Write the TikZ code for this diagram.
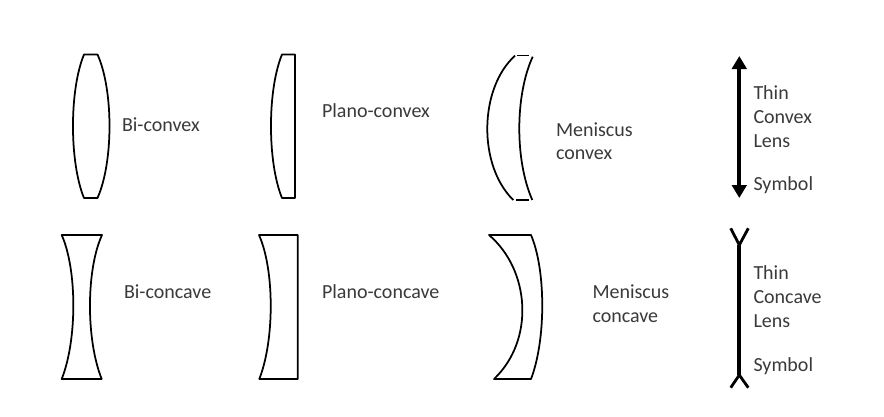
\documentclass[tikz,border=0pt]{standalone}
\usepackage{fontspec}
\setmainfont{Carlito}
\usetikzlibrary{arrows.meta}
\definecolor{labelgrey}{HTML}{3A3A3A}
\tikzset{
  lens/.style={draw=black,line width=1.75pt,line join=round},
  lab/.style={anchor=base west,inner sep=0pt,outer sep=0pt,text=labelgrey,yshift=-0.8pt,font=\fontsize{20}{24}\selectfont},
  thick axis/.style={draw=black,line width=4pt},
  yarm/.style={draw=black,line width=2.8pt}
}
\begin{document}
\begin{tikzpicture}[x=1pt,y=-1pt]
\useasboundingbox (0,0) rectangle (884,416);
\fill[white] (0,0) rectangle (884,416);
% Bi-convex
\draw[lens] (84,54.5) .. controls (69.3,90) and (69.3,162) .. (84,198) -- (97.5,198)
  .. controls (113.5,162) and (113.5,90) .. (97.5,54.5) -- cycle;
% Plano-convex
\draw[lens] (282,54.5) .. controls (267.3,90) and (267.3,162) .. (282,198) -- (295,198) -- (295,54.5) -- cycle;
% Meniscus convex
\draw[lens] (515,55.7) .. controls (479.2,88) and (477.5,165) .. (513.3,200);
\draw[lens] (532.7,56.7) .. controls (515.1,95) and (514.7,160) .. (532.3,200);
\draw[lens] (516.7,55.5) -- (529.3,55.5);
\draw[lens] (516.2,200.3) -- (529.3,200.3);
% Bi-concave
\draw[lens] (61.7,235) .. controls (77.2,270) and (77.2,340) .. (61.7,379) -- (101.7,379)
  .. controls (86,340) and (86,270) .. (102,235) -- cycle;
% Plano-concave
\draw[lens] (259,235) .. controls (274.6,270) and (274.6,340) .. (259.3,379) -- (297.7,379) -- (297.7,235) -- cycle;
% Meniscus concave
\draw[lens] (489,235) .. controls (530,270) and (535,340) .. (494,379) -- (531,379)
  .. controls (546,340) and (546,270) .. (531,235) -- cycle;
% Thin convex symbol
\coordinate (cvxtop) at (739.3,56);
\coordinate (cvxbot) at (739.3,198);
\draw[thick axis,{Triangle[length=13pt,width=14.5pt]}-{Triangle[length=13pt,width=14.5pt]}] (cvxtop) -- (cvxbot);
% Thin concave symbol
\coordinate (ccvtop) at (739.3,245);
\coordinate (ccvbot) at (739.3,375);
\coordinate (tl) at (730.7,228.3);
\coordinate (tr) at (748.3,228.3);
\coordinate (bl) at (730.7,387.7);
\coordinate (br) at (748.3,387.7);
\draw[thick axis] (ccvtop) -- (ccvbot);
\draw[yarm] (tl) -- (ccvtop) -- (tr);
\draw[yarm] (bl) -- (ccvbot) -- (br);
% Labels
\node[lab] (biconvex) at (122,131) {Bi-convex};
\node[lab] (planoconvex) at (322,117) {Plano-convex};
\node[lab] (meniscusA) at (556,136) {Meniscus};
\node[lab] (meniscusB) at (556,159) {convex};
\node[lab] (thinA) at (753.5,99) {Thin};
\node[lab] (thinB) at (753.5,123) {Convex};
\node[lab] (thinC) at (753.5,147) {Lens};
\node[lab] (thinD) at (753.5,190) {Symbol};
\node[lab] (biconcave) at (124,297.5) {Bi-concave};
\node[lab] (planoconcave) at (322,297.5) {Plano-concave};
\node[lab] (meniscusC) at (592.5,297.5) {Meniscus};
\node[lab] (meniscusD) at (592.5,321.5) {concave};
\node[lab] (thinE) at (753.5,279) {Thin};
\node[lab] (thinF) at (753.5,303) {Concave};
\node[lab] (thinG) at (753.5,327) {Lens};
\node[lab] (thinH) at (753.5,371) {Symbol};
\end{tikzpicture}
\end{document}
